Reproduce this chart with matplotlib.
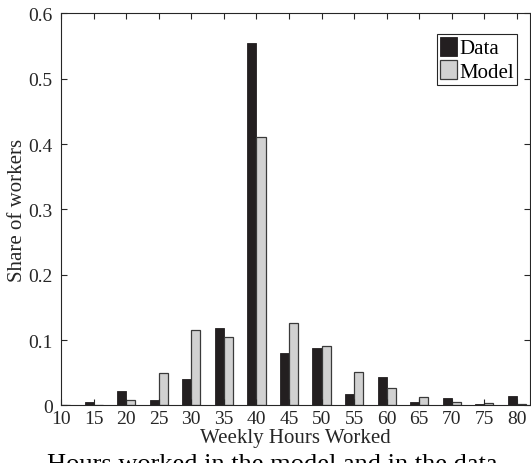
import matplotlib
matplotlib.use("Agg")
import matplotlib.pyplot as plt
import numpy as np

hours = [10, 15, 20, 25, 30, 35, 40, 45, 50, 55, 60, 65, 70, 75, 80]
data_share = [0.002, 0.005, 0.022, 0.008, 0.041, 0.118, 0.554, 0.080, 0.088, 0.017, 0.044, 0.006, 0.011, 0.003, 0.014]
model_share = [0.0, 0.001, 0.009, 0.049, 0.116, 0.105, 0.411, 0.126, 0.091, 0.051, 0.026, 0.013, 0.006, 0.0035, 0.003]
xtick_labels = [str(h) for h in hours]
yticks = [0, 0.1, 0.2, 0.3, 0.4, 0.5, 0.6]
ytick_labels = ["0", "0.1", "0.2", "0.3", "0.4", "0.5", "0.6"]

plt.rcParams['font.family'] = ['Liberation Serif', 'DejaVu Serif']
fs_tick = 14
fs_lab = 15
ink = '#262626'

fig = plt.figure(figsize=(5.31, 4.64), dpi=100)
ax = fig.add_axes([0.115, 0.124, 0.883, 0.845])

x = np.array(hours, dtype=float)
w = 1.4
ax.bar(x - w / 2, data_share, width=w, color='#231f20', edgecolor='#231f20', linewidth=0.6, label='Data')
ax.bar(x + w / 2, model_share, width=w, color='#d1d1d1', edgecolor='#3a3a3a', linewidth=0.9, label='Model')

ax.set_xlim(10, 82)
ax.set_ylim(0, 0.6)
ax.set_xticks(hours)
ax.set_xticklabels(xtick_labels)
ax.set_yticks(yticks)
ax.set_yticklabels(ytick_labels)
ax.tick_params(direction='in', length=4, width=0.8, top=True, right=True, colors=ink,
               labelsize=fs_tick, labelcolor=ink)
ax.tick_params(axis='x', pad=3)
ax.tick_params(axis='y', pad=6)
for s in ax.spines.values():
    s.set_color(ink)
    s.set_linewidth(0.8)

ax.set_xlabel('Weekly Hours Worked', fontsize=fs_lab, color=ink, labelpad=1)
ax.set_ylabel('Share of workers', fontsize=fs_lab, color=ink, labelpad=1)

leg = ax.legend(loc='upper right', bbox_to_anchor=(0.972, 0.948), fontsize=fs_lab,
                frameon=True, fancybox=False, edgecolor=ink, framealpha=1,
                handlelength=0.8, handleheight=1.0, handletextpad=0.1,
                borderpad=0.15, labelspacing=0.1, borderaxespad=0)
leg.get_frame().set_linewidth(0.8)
for t in leg.get_texts():
    t.set_color('black')

fig.text(0.088, -0.015, 'Hours worked in the model and in the data', fontsize=19,
         color='black', ha='left', va='baseline')

fig.savefig('out.png', dpi=100)
